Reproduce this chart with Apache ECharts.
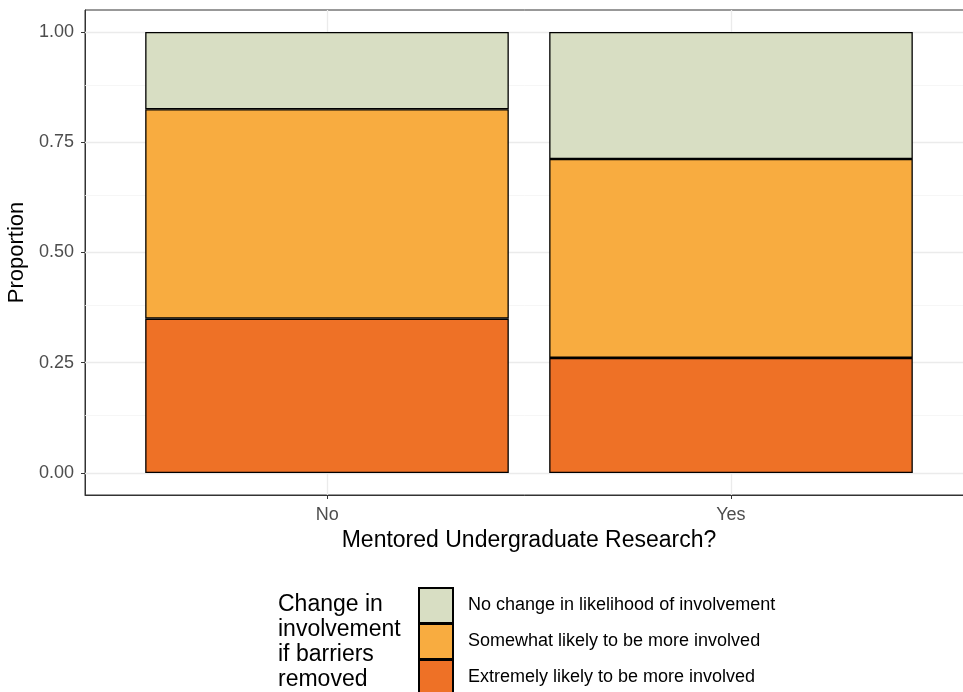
<!DOCTYPE html>
<html><head><meta charset="utf-8">
<script src="https://cdn.jsdelivr.net/npm/echarts@6/dist/echarts.min.js"></script>
<style>html,body{margin:0;padding:0;background:#fff}#c{width:963px;height:692px}</style>
</head><body><div id="c"></div>
<script>
var categories = ['No', 'Yes'];
var categoryPositions = [1, 2];
var extremely = [0.350, 0.261];
var somewhat = [0.475, 0.451];
var noChange = [0.175, 0.288];
var yTicks = [0, 0.25, 0.5, 0.75, 1];
var yMinor = [0.125, 0.375, 0.625, 0.875];
var seriesNames = ['Extremely likely to be more involved', 'Somewhat likely to be more involved', 'No change in likelihood of involvement'];
var colors = ['#EE7126', '#F8AC40', '#D8DEC3'];
var legendOrder = [2, 1, 0];

var chart = echarts.init(document.getElementById('c'));
var font = 'Liberation Sans, Arial, sans-serif';
var gridSeries = {
  type: 'line', data: [], z: 0, silent: true, xAxisIndex: 0, yAxisIndex: 0,
  markLine: {
    silent: true, symbol: 'none', label: {show: false}, animation: false, z: 1,
    data: yTicks.map(function (v) { return {yAxis: v, lineStyle: {color: '#EBEBEB', width: 1.3, type: 'solid'}}; })
      .concat(yMinor.map(function (v) { return {yAxis: v, lineStyle: {color: '#F4F4F4', width: 0.8, type: 'solid'}}; }))
      .concat(categoryPositions.map(function (v) { return {xAxis: v, lineStyle: {color: '#EBEBEB', width: 1.3, type: 'solid'}}; }))
  }
};
var bars = [extremely, somewhat, noChange].map(function (vals, i) {
  return {
    name: seriesNames[i], type: 'bar', stack: 'total', data: vals, barWidth: '90%', z: 3,
    xAxisIndex: 1, yAxisIndex: 1,
    itemStyle: {color: colors[i], borderColor: '#000', borderWidth: 1.3},
    animation: false
  };
});
var legends = legendOrder.map(function (si, k) {
  return {
    orient: 'vertical', left: 418, top: 587 + k * 36, padding: 0,
    itemWidth: 34, itemHeight: 35, itemGap: 0,
    icon: 'rect',
    data: [seriesNames[si]],
    textStyle: {fontSize: 18, color: '#000', padding: [0, 0, 0, 10], fontFamily: font},
    selectedMode: false
  };
});

chart.setOption({
  animation: false,
  textStyle: {fontFamily: font},
  grid: [
    {left: 85, top: 10, right: -10, bottom: 197, show: true, borderColor: '#333', borderWidth: 1, backgroundColor: 'transparent', outerBoundsMode: 'none', containLabel: false},
    {left: 125, top: 10, right: 30, bottom: 197, show: false, outerBoundsMode: 'none', containLabel: false}
  ],
  title: {
    text: 'Change in\ninvolvement\nif barriers\nremoved',
    left: 278, top: 592, padding: 0,
    textStyle: {fontSize: 23, fontWeight: 'normal', color: '#000', lineHeight: 25, fontFamily: font}
  },
  legend: legends,
  xAxis: [{
    type: 'value', min: 0.4, max: 2.6, gridIndex: 0,
    name: 'Mentored Undergraduate Research?', nameLocation: 'middle', nameGap: 32,
    nameTextStyle: {fontSize: 23, color: '#000'},
    axisLine: {show: true, onZero: false, lineStyle: {color: '#333'}},
    axisTick: {show: true, length: 4, lineStyle: {color: '#333'}, customValues: categoryPositions},
    axisLabel: {fontSize: 18, color: '#4D4D4D', margin: 11, customValues: categoryPositions,
      formatter: function (v) { var i = categoryPositions.indexOf(v); return i >= 0 ? categories[i] : ''; }},
    splitLine: {show: false}
  }, {
    type: 'category', data: categories, gridIndex: 1, show: false
  }],
  yAxis: [{
    type: 'value', min: -0.05, max: 1.05, gridIndex: 0,
    name: 'Proportion', nameLocation: 'middle', nameGap: 46,
    nameTextStyle: {fontSize: 22, color: '#000'},
    axisLine: {show: true, onZero: false, lineStyle: {color: '#333'}},
    axisTick: {show: true, length: 4, lineStyle: {color: '#333'}, customValues: yTicks},
    axisLabel: {fontSize: 18, color: '#4D4D4D', margin: 11, customValues: yTicks,
      formatter: function (v) { return v.toFixed(2); }},
    splitLine: {show: false}
  }, {
    type: 'value', min: -0.05, max: 1.05, gridIndex: 1, show: false, splitLine: {show: false}
  }],
  series: [gridSeries].concat(bars)
});
</script></body></html>
